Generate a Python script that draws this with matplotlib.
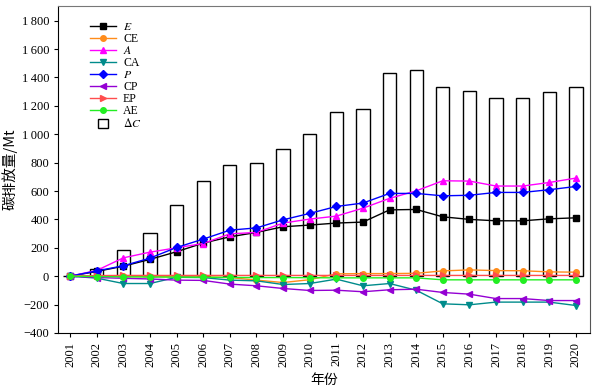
import numpy as np
import matplotlib.pyplot as plt
import matplotlib.patches as mpatches
from matplotlib.container import BarContainer
from matplotlib.legend_handler import HandlerPatch
from matplotlib.ticker import FuncFormatter

plt.rcParams['font.family'] = ['Liberation Serif', 'DejaVu Serif']
plt.rcParams['mathtext.fontset'] = 'stix'

years = list(range(2001, 2021))

dC = [0, 50, 185, 302, 500, 670, 782, 797, 895, 1000,
      1155, 1175, 1430, 1452, 1335, 1302, 1256, 1256, 1295, 1335]
E = [0, 33, 70, 118, 172, 233, 277, 308, 348, 360,
     374, 381, 467, 470, 418, 400, 390, 390, 404, 411]
CE = [0, 0, -2, -3, -4, -5, -10, -28, -45, -25,
      16, 18, 18, 20, 37, 44, 39, 38, 30, 28]
A = [0, 40, 129, 169, 200, 230, 298, 308, 374, 402,
     423, 479, 548, 601, 672, 670, 635, 635, 660, 691]
CA = [0, -14, -52, -52, -8, -10, -28, -33, -59, -52,
      -21, -68, -52, -99, -195, -202, -183, -183, -183, -207]
P = [0, 37, 73, 127, 202, 261, 324, 340, 397, 442,
     491, 515, 583, 583, 566, 570, 590, 590, 609, 632]
CP = [0, -10, -15, -20, -28, -30, -56, -68, -87, -101,
      -99, -110, -96, -92, -115, -127, -158, -158, -172, -172]
EP = [0, 4, 5, 5, 5, 5, 5, 5, 5, 5,
      5, 5, 5, 5, 5, 5, 5, 5, 5, 5]
AE = [0, -3, -5, -6, -7, -8, -9, -10, -10, -11,
      -12, -12, -12, -12, -26, -26, -26, -26, -26, -26]


def square_patch(legend, orig_handle, xdescent, ydescent, width, height, fontsize):
    s = height * 1.1
    return mpatches.Rectangle((width / 2 - s / 2 - xdescent, -ydescent + (height - s) / 2),
                              s, s)


def copy_style(legend_handle, orig):
    legend_handle.update_from(orig[0])


fig = plt.figure(figsize=(5.99, 3.88), dpi=100)
ax = fig.add_axes([0.097, 0.142, 0.888, 0.843])

x = np.arange(len(years))
ax.bar(x, dC, width=0.5, facecolor='white', edgecolor='black',
       linewidth=1.0, label=r'$\Delta C$', zorder=1)

series = [
    (E, '$E$', 'black', 's'),
    (CE, 'CE', '#ff8c1a', 'o'),
    (A, '$A$', '#ff00ff', '^'),
    (CA, 'CA', '#008b8b', 'v'),
    (P, '$P$', '#0000ff', 'D'),
    (CP, 'CP', '#9400d3', '<'),
    (EP, 'EP', '#ff4d4d', '>'),
    (AE, 'AE', '#22ee22', 'o'),
]
for vals, lab, col, mk in series:
    ax.plot(x, vals, color=col, marker=mk, markersize=4,
            linewidth=1.0, label=lab, zorder=3)

ax.legend(loc='upper left', bbox_to_anchor=(0.04, 0.985), frameon=False,
          fontsize=8.5, labelspacing=0.0, handlelength=2.2, handletextpad=0.6,
          handler_map={BarContainer: HandlerPatch(patch_func=square_patch,
                                                  update_func=copy_style)})

ax.set_xlim(-0.45, len(years) - 0.47)
ax.set_ylim(-400, 1905)
ax.set_yticks(np.arange(-400, 1801, 200))
ax.yaxis.set_major_formatter(FuncFormatter(
    lambda v, p: ('\u2212' if v < 0 else '') + (f'{abs(int(v)):,}'.replace(',', '\u2009'))))
ax.set_xticks(x)
ax.set_xticklabels([str(y) for y in years], rotation=90)
ax.tick_params(labelsize=9, direction='out', length=3)

ax.set_xlabel('年份', family=['Noto Sans CJK SC'], fontsize=10)
ax.set_ylabel('碳排放量/Mt', family=['Noto Sans CJK SC', 'Liberation Serif'],
              fontsize=10.5, labelpad=3)

for s in ax.spines.values():
    s.set_linewidth(0.8)
ax.spines['top'].set_color('#777777')
ax.spines['right'].set_color('#555555')

fig.savefig('out.png', dpi=100)
